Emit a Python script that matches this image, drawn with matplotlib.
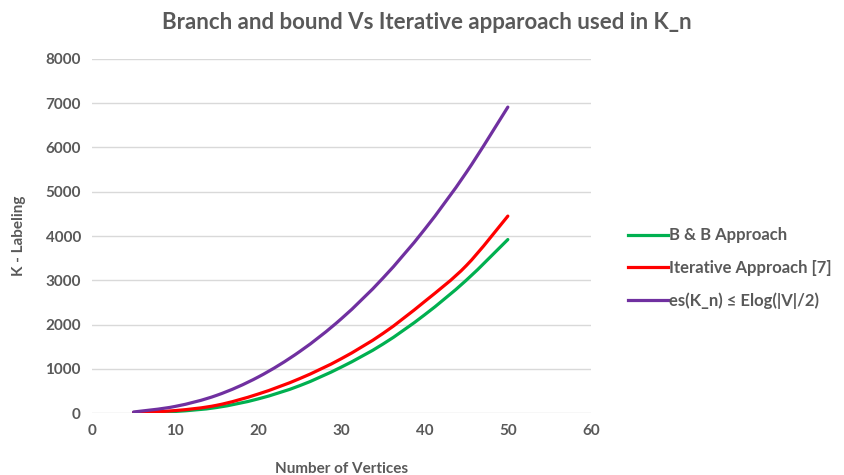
import numpy as np
import matplotlib.pyplot as plt
from matplotlib.path import Path
from matplotlib.patches import PathPatch
from matplotlib.lines import Line2D

# data
vertices = [5, 10, 15, 20, 25, 30, 35, 40, 45, 50]
bb_approach = [5, 35, 125, 320, 620, 1040, 1560, 2220, 3000, 3920]
iterative = [10, 55, 175, 430, 780, 1230, 1800, 2520, 3330, 4450]
bound = [23, 149, 400, 815, 1393, 2134, 3052, 4151, 5434, 6913]

labels = ["B & B Approach", "Iterative Approach [7]", "es(K_n) \u2264 Elog(|V|/2)"]
colors = ["#00B050", "#FF0000", "#7030A0"]

plt.rcParams['font.family'] = ['Lato', 'DejaVu Sans']
text_col = "#595959"


def smooth_path(x, y):
    # Excel-like smoothed line: cubic bezier with catmull-rom tangents
    x = np.asarray(x, float)
    y = np.asarray(y, float)
    verts = [(x[0], y[0])]
    codes = [Path.MOVETO]
    n = len(x)
    for i in range(n - 1):
        p0 = i - 1 if i > 0 else i
        p3 = i + 2 if i + 2 < n else i + 1
        c1 = (x[i] + (x[i + 1] - x[p0]) / 6, y[i] + (y[i + 1] - y[p0]) / 6)
        c2 = (x[i + 1] - (x[p3] - x[i]) / 6, y[i + 1] - (y[p3] - y[i]) / 6)
        verts += [c1, c2, (x[i + 1], y[i + 1])]
        codes += [Path.CURVE4] * 3
    return Path(verts, codes)


fig = plt.figure(figsize=(8.45, 4.75), dpi=100)
ax = fig.add_axes([0.1089, 0.1305, 0.5905, 0.7453])

for ys, c in zip([bb_approach, iterative, bound], colors):
    patch = PathPatch(smooth_path(vertices, ys), facecolor='none', edgecolor=c,
                      lw=2.3, capstyle='round', zorder=3)
    ax.add_patch(patch)

ax.set_xlim(0, 60)
ax.set_ylim(0, 8000)
ax.set_xticks(range(0, 61, 10))
ax.set_yticks(range(0, 8001, 1000))
ax.grid(axis='y', color='#d9d9d9', lw=1)
ax.set_axisbelow(True)
for s in ax.spines.values():
    s.set_visible(False)
ax.tick_params(length=0, labelsize=11, labelcolor=text_col, pad=8)
for t in ax.get_xticklabels() + ax.get_yticklabels():
    t.set_fontweight('bold')

ax.set_xlabel("Number of Vertices", fontsize=11, fontweight='bold', color=text_col, labelpad=17)
ax.set_ylabel("K - Labeling", fontsize=11, fontweight='bold', color=text_col, labelpad=14)
fig.suptitle("Branch and bound Vs Iterative apparoach used in K_n", x=0.505, y=0.975,
             fontsize=16, fontweight='bold', color=text_col)

handles = [Line2D([], [], color=c, lw=2.3) for c in colors]
leg = fig.legend(handles, labels, loc='center left', bbox_to_anchor=(0.725, 0.435),
                 frameon=False, handlelength=2.4, handletextpad=0.1, labelspacing=1.0,
                 prop={'weight': 'bold', 'size': 12})
for t in leg.get_texts():
    t.set_color(text_col)

fig.savefig("out.png", dpi=100)
